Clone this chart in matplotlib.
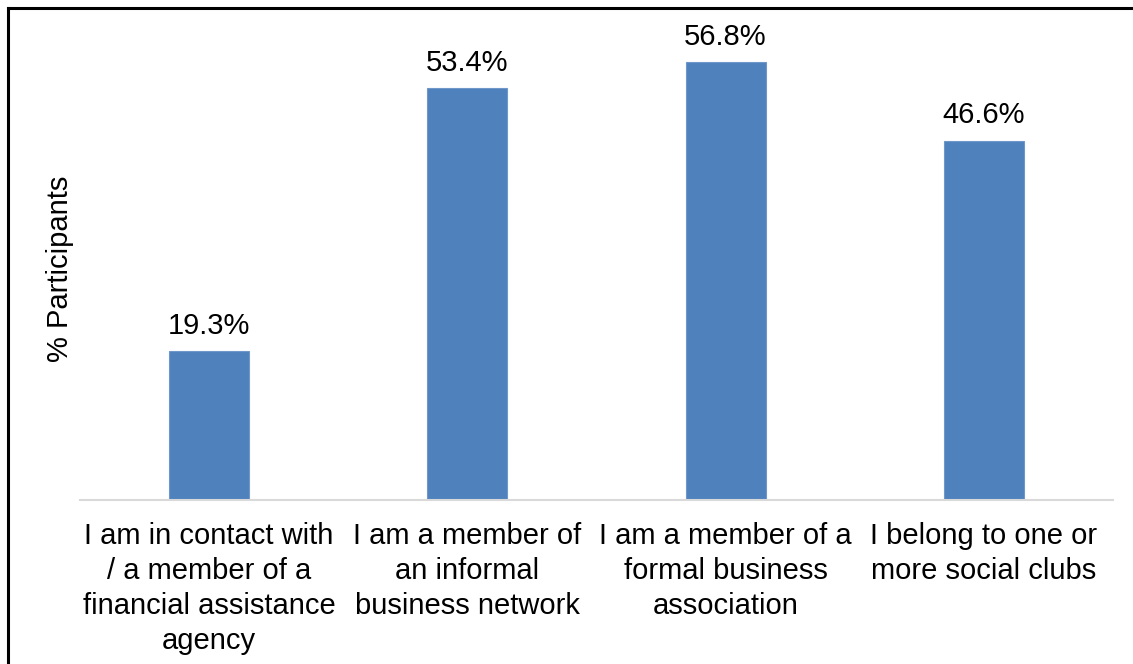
import matplotlib
matplotlib.use('Agg')
import matplotlib.pyplot as plt
from matplotlib.lines import Line2D

plt.rcParams['font.family'] = ['Liberation Sans', 'DejaVu Sans']

categories = [
    "I am in contact with\n/ a member of a\nfinancial assistance\nagency",
    "I am a member of\nan informal\nbusiness network",
    "I am a member of a\nformal business\nassociation",
    "I belong to one or\nmore social clubs",
]
values = [19.3, 53.4, 56.8, 46.6]

fig = plt.figure(figsize=(11.33, 6.64), dpi=100)
ax = fig.add_axes([0.0706, 0.247, 0.9117, 0.6967])

x = range(len(categories))
bars = ax.bar(x, values, width=0.31, color='#4f81bd', edgecolor='#6f97c9', linewidth=0.8)

for b, v in zip(bars, values):
    ax.annotate(f'{v:.1f}%', xy=(b.get_x() + b.get_width() / 2, v),
                xytext=(0, 12.5), textcoords='offset points',
                ha='center', va='baseline', fontsize=21)

ax.set_xlim(-0.5, len(categories) - 0.5)
ax.set_ylim(0, 60)
ax.set_xticks(list(x))
ax.set_xticklabels(categories, fontsize=21, linespacing=1.32)
ax.tick_params(axis='x', length=0, pad=16)
ax.set_yticks([])
ax.set_ylabel('% Participants', fontsize=21, labelpad=4)

for side in ['top', 'right', 'left']:
    ax.spines[side].set_visible(False)
ax.spines['bottom'].set_color('#d9d9d9')
ax.spines['bottom'].set_linewidth(1.5)

# outer frame: left and top edges only
fig.add_artist(Line2D([0.007, 0.007], [0, 0.988], color='black', lw=2.2, transform=fig.transFigure))
fig.add_artist(Line2D([0.007, 1], [0.988, 0.988], color='black', lw=2.2, transform=fig.transFigure))

plt.savefig('out.png', dpi=100)
